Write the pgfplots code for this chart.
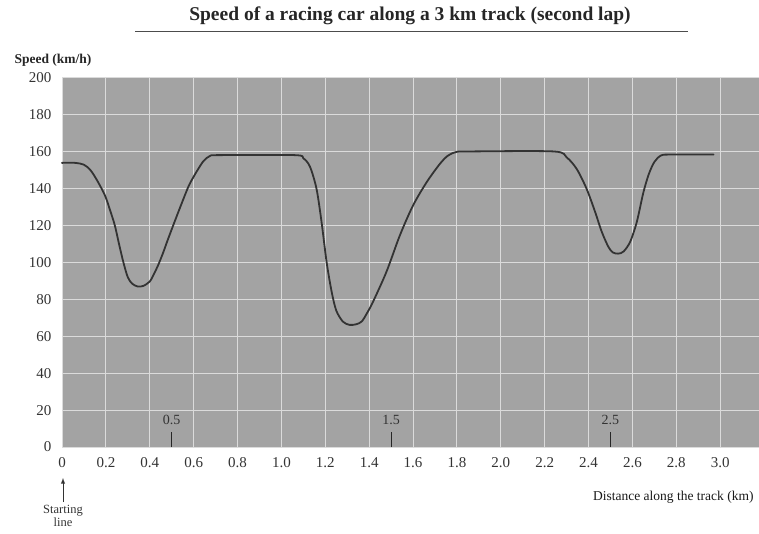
\documentclass[border=0pt]{standalone}
\usepackage{pgfplots}
\pgfplotsset{compat=1.18}
\usepackage{fontspec}
\setmainfont{Liberation Serif}

\definecolor{bg}{gray}{0.64}
\definecolor{gridc}{gray}{0.86}
\definecolor{curve}{gray}{0.2}

\begin{document}
\begin{tikzpicture}
\useasboundingbox (0pt,0pt) rectangle (759pt,533pt);
\begin{axis}[
  at={(62pt,86pt)}, anchor=south west,
  scale only axis, width=697pt, height=369pt,
  xmin=0, xmax=3.177, ymin=0, ymax=200,
  axis background/.style={fill=bg},
  axis line style={draw=none},
  major tick length=0pt,
  grid=major,
  major grid style={gridc, line width=1pt},
  xtick={0,0.2,0.4,0.6,0.8,1.0,1.2,1.4,1.6,1.8,2.0,2.2,2.4,2.6,2.8,3.0},
  xticklabels={0,0.2,0.4,0.6,0.8,1.0,1.2,1.4,1.6,1.8,2.0,2.2,2.4,2.6,2.8,3.0},
  ytick={0,20,...,200},
  /pgf/number format/assume math mode=true,
  ticklabel style={font=\fontsize{15}{17}\selectfont, text=black!80},
  yticklabel style={xshift=-7pt},
  xticklabel style={yshift=-7pt},
  clip=false,
]
\addplot[curve, line width=1.8pt, line join=round, line cap=round, smooth, tension=0.5] coordinates {
  (0,154) (0.06,154) (0.10,153) (0.13,150) (0.16,144.5) (0.196,136.3)
  (0.22,128) (0.241,120) (0.26,110) (0.28,100) (0.30,92) (0.32,88.5)
  (0.345,87) (0.37,87.3) (0.40,89.7) (0.42,94) (0.438,98.5) (0.46,105)
  (0.484,112.9) (0.53,127.3) (0.575,140.8) (0.60,146.5) (0.621,150.7)
  (0.645,155) (0.675,157.8) (0.72,158.2) (1.06,158.2)
  (1.10,156.5) (1.13,152) (1.16,140) (1.183,122) (1.206,100.3) (1.229,84.2)
  (1.25,74) (1.28,68) (1.31,66.2) (1.34,66.5) (1.366,68) (1.39,72.5)
  (1.418,78.8) (1.479,95) (1.54,114.7) (1.6,130.9) (1.662,143.5)
  (1.722,153.4) (1.76,158) (1.80,160) (1.86,160.2) (2.24,160.2)
  (2.30,157) (2.346,150.7) (2.391,140) (2.43,127.4) (2.46,116.7)
  (2.49,108.6) (2.51,105.5) (2.535,104.8) (2.56,106) (2.59,111.3) (2.62,122)
  (2.65,138) (2.675,148) (2.70,154.5) (2.73,158) (2.77,158.5) (2.97,158.5)
};
% half-km markers
\addplot[black!85, line width=1.1pt, ycomb, no markers] coordinates {(0.5,8) (1.5,8) (2.5,8)};
\node[font=\fontsize{14}{16}\selectfont, text=black!80] at (axis cs:0.5,14.5) {0.5};
\node[font=\fontsize{14}{16}\selectfont, text=black!80] at (axis cs:1.5,14.5) {1.5};
\node[font=\fontsize{14}{16}\selectfont, text=black!80] at (axis cs:2.5,14.5) {2.5};
\end{axis}
% title and labels
\node[font=\fontsize{19.5}{22}\selectfont\bfseries, text=black!85] at (410pt,517pt) {Speed of a racing car along a 3 km track (second lap)};
\draw[black!70, line width=0.9pt] (135pt,502pt) -- (688pt,502pt);
\node[font=\fontsize{13.5}{15}\selectfont\bfseries, text=black!85, anchor=west] at (11pt,473pt) {Speed (km/h)};
\node[font=\fontsize{13.5}{15}\selectfont, text=black!90, anchor=east] at (757pt,36pt) {Distance along the track (km)};
\draw[-latex, black!80, line width=0.9pt] (63pt,31pt) -- (63pt,55pt);
\node[font=\fontsize{12.5}{13}\selectfont, text=black!80, align=center, anchor=north, inner sep=1pt] at (63pt,29pt) {Starting\\line};
\end{tikzpicture}
\end{document}
